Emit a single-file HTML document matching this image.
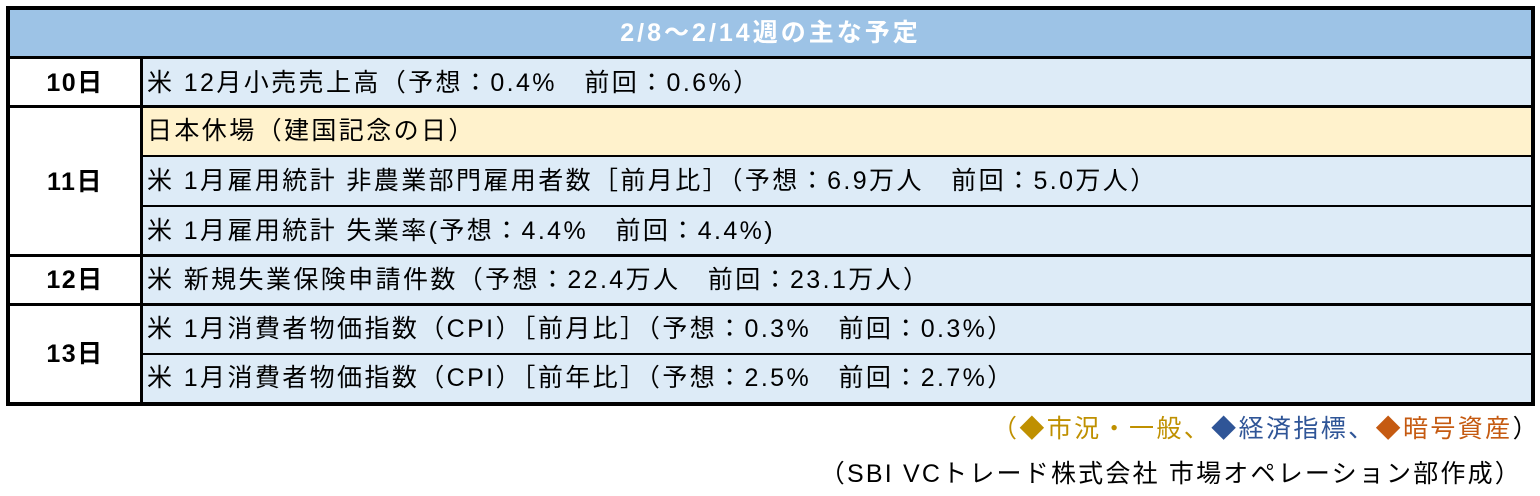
<!DOCTYPE html>
<html><head><meta charset="utf-8"><style>
body{margin:0;width:1540px;height:496px;background:#fff;position:relative;overflow:hidden;font-family:"Liberation Sans","Noto Sans CJK JP",sans-serif;}
.a{position:absolute;}
.b{position:absolute;background:#000;}
.t{position:absolute;left:147px;font-size:25px;letter-spacing:2.4px;line-height:25px;color:#000;white-space:nowrap;}
.d{position:absolute;left:10px;width:130px;text-align:center;font-size:25px;letter-spacing:1.5px;font-weight:bold;line-height:25px;}
</style></head><body>
<div class="a" style="left:10px;top:10px;width:1521px;height:46px;background:#9DC3E6;"></div>
<div class="a" style="left:10px;top:10px;width:1521px;height:46px;line-height:46px;text-align:center;color:#fff;font-weight:bold;font-size:25px;letter-spacing:3px;">2/8～2/14週の主な予定</div>
<div class="a" style="left:142px;top:59px;width:1389px;height:343px;background:#DDEBF7;"></div>
<div class="a" style="left:142px;top:108px;width:1389px;height:47px;background:#FFF2CC;"></div>
<div class="b" style="left:6px;top:6px;width:1529px;height:4px;"></div>
<div class="b" style="left:6px;top:402px;width:1529px;height:4px;"></div>
<div class="b" style="left:6px;top:6px;width:4px;height:400px;"></div>
<div class="b" style="left:1531px;top:6px;width:4px;height:400px;"></div>
<div class="b" style="left:10px;top:56px;width:1521px;height:3px;"></div>
<div class="b" style="left:140px;top:59px;width:3px;height:343px;"></div>
<div class="b" style="left:10px;top:105px;width:1521px;height:3px;"></div>
<div class="b" style="left:140px;top:155px;width:1391px;height:2px;"></div>
<div class="b" style="left:140px;top:205px;width:1391px;height:2px;"></div>
<div class="b" style="left:10px;top:254px;width:1521px;height:3px;"></div>
<div class="b" style="left:10px;top:303px;width:1521px;height:3px;"></div>
<div class="b" style="left:140px;top:353px;width:1391px;height:2px;"></div>
<div class="d" style="top:71px;">10日</div>
<div class="d" style="top:170px;">11日</div>
<div class="d" style="top:268px;">12日</div>
<div class="d" style="top:342px;">13日</div>
<div class="t" style="top:71px;">米 12月小売売上高（予想：0.4%　前回：0.6%）</div>
<div class="t" style="top:119px;">日本休場（建国記念の日）</div>
<div class="t" style="top:169px;">米 1月雇用統計 非農業部門雇用者数［前月比］（予想：6.9万人　前回：5.0万人）</div>
<div class="t" style="top:219px;">米 1月雇用統計 失業率(予想：4.4%　前回：4.4%)</div>
<div class="t" style="top:268px;">米 新規失業保険申請件数（予想：22.4万人　前回：23.1万人）</div>
<div class="t" style="top:317px;">米 1月消費者物価指数（CPI）［前月比］（予想：0.3%　前回：0.3%）</div>
<div class="t" style="top:366px;">米 1月消費者物価指数（CPI）［前年比］（予想：2.5%　前回：2.7%）</div>
<div class="a" style="right:0px;top:416px;font-size:25px;letter-spacing:2.4px;line-height:26px;white-space:nowrap;"><span style="color:#BF9000">（◆市況・一般、</span><span style="color:#2F5597">◆経済指標、</span><span style="color:#C55A11">◆暗号資産</span><span style="color:#000">）</span></div>
<div class="a" style="right:18px;top:461px;font-size:25px;letter-spacing:2.2px;line-height:26px;white-space:nowrap;color:#000;">（SBI VCトレード株式会社 市場オペレーション部作成）</div>
</body></html>
